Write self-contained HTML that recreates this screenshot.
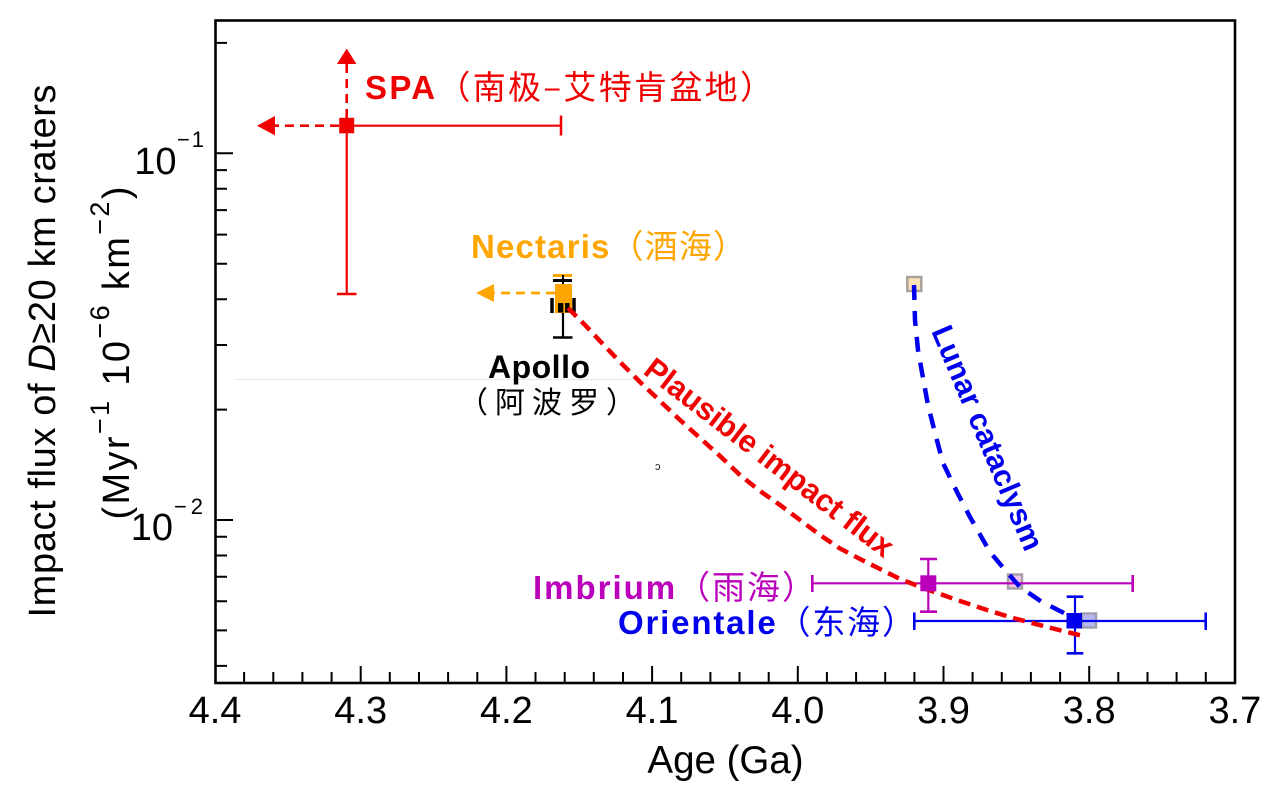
<!DOCTYPE html>
<html>
<head>
<meta charset="utf-8">
<style>
  html, body { margin: 0; padding: 0; background: #ffffff; }
  svg { display: block; }
  text { font-family: "Liberation Sans", "Noto Sans CJK SC", sans-serif; }
  .cjk { font-family: "Noto Sans CJK SC", "WenQuanYi Zen Hei", sans-serif; font-weight: normal; }
</style>
</head>
<body>
<svg width="1284" height="802" viewBox="0 0 1284 802" xmlns="http://www.w3.org/2000/svg">
  <rect x="0" y="0" width="1284" height="802" fill="#ffffff"/>

  <!-- faint artifact line -->
  <line x1="235" y1="379.5" x2="634" y2="379.5" stroke="#e4e4e4" stroke-width="1"/>
  <text x="655" y="470" font-size="11" fill="#222">ɔ</text>

  <!-- Axes frame -->
  <rect x="215.5" y="20.5" width="1019.5" height="662.5" fill="none" stroke="#000" stroke-width="2.6"/>

  <!-- Y ticks -->
  <g stroke="#000" stroke-width="2">
    <path d="M215 153.3H233 M215 520H233"/>
    <path d="M215 42.9H227 M215 170.1H227 M215 188.8H227 M215 210.1H227 M215 234.6H227 M215 263.7H227 M215 299.2H227 M215 345H227 M215 409.6H227 M215 536.8H227 M215 555.5H227 M215 576.8H227 M215 601.3H227 M215 630.4H227 M215 665.9H227"/>
  </g>
  <!-- X ticks -->
  <g stroke="#000" stroke-width="2">
    <path d="M360.7 683V666 M506.4 683V666 M652.1 683V666 M797.8 683V666 M943.5 683V666 M1089.2 683V666"/>
    <path d="M244.1 683V672 M273.3 683V672 M302.4 683V672 M331.6 683V672 M389.8 683V672 M419 683V672 M448.1 683V672 M477.3 683V672 M535.5 683V672 M564.7 683V672 M593.8 683V672 M623 683V672 M681.2 683V672 M710.4 683V672 M739.5 683V672 M768.7 683V672 M826.9 683V672 M856.1 683V672 M885.2 683V672 M914.4 683V672 M972.6 683V672 M1001.8 683V672 M1030.9 683V672 M1060.1 683V672 M1118.3 683V672 M1147.5 683V672 M1176.6 683V672 M1205.8 683V672"/>
  </g>

  <!-- X tick labels -->
  <g font-size="38" fill="#000" text-anchor="middle">
    <text x="215" y="723">4.4</text>
    <text x="360.7" y="723">4.3</text>
    <text x="506.4" y="723">4.2</text>
    <text x="652.1" y="723">4.1</text>
    <text x="797.8" y="723">4.0</text>
    <text x="943.5" y="723">3.9</text>
    <text x="1089.2" y="723">3.8</text>
    <text x="1234.9" y="723">3.7</text>
  </g>
  <text x="725.5" y="773" font-size="38.5" text-anchor="middle" fill="#000">Age (Ga)</text>

  <!-- Y tick labels -->
  <g fill="#000">
    <text x="176.5" y="174" font-size="38" text-anchor="end">10</text>
    <text x="177" y="147" font-size="22" textLength="27" lengthAdjust="spacing">−1</text>
    <text x="173" y="540" font-size="38" text-anchor="end">10</text>
    <text x="174" y="514" font-size="22" textLength="29" lengthAdjust="spacing">−2</text>
  </g>

  <!-- Y axis label -->
  <text transform="translate(55,351) rotate(-90)" text-anchor="middle" font-size="38" fill="#000" textLength="533" lengthAdjust="spacing">Impact flux of <tspan font-style="italic">D</tspan>≥20 km craters</text>
  <text transform="translate(129,353) rotate(-90)" text-anchor="middle" font-size="38" fill="#000" textLength="333" lengthAdjust="spacing">(Myr<tspan font-size="27" dy="-20">−1</tspan><tspan dy="20"> 10</tspan><tspan font-size="27" dy="-20">−6</tspan><tspan dy="20"> km</tspan><tspan font-size="27" dy="-20">−2</tspan><tspan dy="20">)</tspan></text>

  <!-- Light (gray-bordered) squares -->
  <rect x="907.3" y="277" width="14" height="14" fill="#ffe2b8" stroke="#a9a29a" stroke-width="2.5"/>
  <rect x="1008" y="574.5" width="14" height="14" fill="#f2c4f0" stroke="#a8a0a8" stroke-width="2.5"/>
  <rect x="1082" y="613.5" width="14" height="14" fill="#b8b8f6" stroke="#a0a0b0" stroke-width="2.5"/>

  <!-- SPA (red) -->
  <g stroke="#f00000" fill="none">
    <line x1="346.7" y1="125.7" x2="561" y2="125.7" stroke-width="2.2"/>
    <line x1="561" y1="115.5" x2="561" y2="135.5" stroke-width="2.5"/>
    <line x1="346.7" y1="125.7" x2="346.7" y2="294" stroke-width="2.2"/>
    <line x1="337" y1="294" x2="356.5" y2="294" stroke-width="2.5"/>
    <line x1="339" y1="125.7" x2="272" y2="125.7" stroke-width="2.6" stroke-dasharray="9,6"/>
    <line x1="346.7" y1="118" x2="346.7" y2="62" stroke-width="2.6" stroke-dasharray="9,6"/>
  </g>
  <polygon points="257,125.7 275,116 275,135.4" fill="#f00000"/>
  <polygon points="346.7,48.5 337,64 356.4,64" fill="#f00000"/>
  <rect x="339.2" y="117.8" width="15" height="15.5" fill="#f00000"/>

  <!-- Nectaris (orange) + Apollo (black) -->
  <line x1="555" y1="293" x2="492" y2="293" stroke="#ffa500" stroke-width="2.8" stroke-dasharray="9,6"/>
  <polygon points="476,293 494,284 494,302" fill="#ffa500"/>
  <line x1="553" y1="275.5" x2="572" y2="275.5" stroke="#ffa500" stroke-width="3"/>
  <line x1="563" y1="275" x2="563" y2="285" stroke="#000" stroke-width="2"/>
  <line x1="553" y1="280.5" x2="572" y2="280.5" stroke="#000" stroke-width="3"/>
  <rect x="555" y="284" width="17" height="29" fill="#ffa500"/>
  <rect x="558" y="303" width="11.5" height="9.5" fill="#000"/>
  <line x1="564.2" y1="300" x2="564.2" y2="313" stroke="#ffa500" stroke-width="1.8"/>
  <line x1="552" y1="298" x2="552" y2="313" stroke="#000" stroke-width="3.5"/>
  <line x1="574" y1="298" x2="574" y2="313" stroke="#000" stroke-width="3.5"/>
  <line x1="563" y1="313" x2="563" y2="337" stroke="#000" stroke-width="2.2"/>
  <line x1="553" y1="337.5" x2="572.5" y2="337.5" stroke="#000" stroke-width="2.6"/>

  <!-- Imbrium (magenta) -->
  <g stroke="#bb00bb" fill="none" stroke-width="2.2">
    <line x1="812.3" y1="583.3" x2="1132.7" y2="583.3"/>
    <line x1="812.3" y1="575" x2="812.3" y2="592" stroke-width="2.6"/>
    <line x1="1132.7" y1="575" x2="1132.7" y2="592" stroke-width="2.6"/>
    <line x1="928.3" y1="559" x2="928.3" y2="611.7"/>
    <line x1="920" y1="559" x2="937" y2="559" stroke-width="2.6"/>
    <line x1="920" y1="611.7" x2="937" y2="611.7" stroke-width="2.6"/>
  </g>

  <!-- Orientale (blue) -->
  <g stroke="#0000ee" fill="none" stroke-width="2.2">
    <line x1="914.3" y1="621" x2="1205.7" y2="621"/>
    <line x1="914.3" y1="612.5" x2="914.3" y2="630" stroke-width="2.6"/>
    <line x1="1205.7" y1="612.5" x2="1205.7" y2="630" stroke-width="2.6"/>
    <line x1="1075" y1="596.7" x2="1075" y2="653.3"/>
    <line x1="1066.7" y1="596.7" x2="1083.3" y2="596.7" stroke-width="2.6"/>
    <line x1="1066.7" y1="653.3" x2="1083.3" y2="653.3" stroke-width="2.6"/>
  </g>

  <!-- Plausible impact flux curve (red dashed) -->
  <polyline fill="none" stroke="#f00000" stroke-width="4.5" stroke-dasharray="12,7"
    points="568,308 585,325 600,341 620,362 640,382 660,401 680,420 700,438 720,456 740,475 760,491 780,505 800,520 820,535 840,548.5 860,559 880,569 900,579 926,589 957,600 987,610 1013,618 1047,627 1083,636"/>

  <!-- Lunar cataclysm curve (blue dashed) -->
  <polyline fill="none" stroke="#0000ee" stroke-width="4.5" stroke-dasharray="15,11"
    points="914,285 915,320 918,350 923,378 928,405 935,433 943,463 957,492 970,517 990,552 1005,570 1020,587 1042,602 1072,617"/>

  <!-- squares on top -->
  <rect x="920.3" y="575.3" width="16" height="16" fill="#bb00bb"/>
  <rect x="1066.5" y="613" width="15.5" height="15.5" fill="#0000ee"/>

  <!-- Labels -->
  <text x="365" y="99" font-size="33" fill="#f00000" textLength="408" lengthAdjust="spacing"><tspan font-weight="bold">SPA</tspan><tspan class="cjk">（南极–艾特肯盆地）</tspan></text>
  <text x="471" y="258" font-size="33" fill="#ffa500" textLength="275" lengthAdjust="spacing"><tspan font-weight="bold">Nectaris</tspan><tspan class="cjk">（酒海）</tspan></text>
  <text x="488" y="378" font-size="32" font-weight="bold" fill="#000" textLength="102" lengthAdjust="spacing">Apollo</text>
  <text x="458" y="413" font-size="30" fill="#000" textLength="178" lengthAdjust="spacing"><tspan class="cjk">（阿波罗）</tspan></text>
  <text x="533" y="599" font-size="33" fill="#bb00bb" textLength="282" lengthAdjust="spacing"><tspan font-weight="bold">Imbrium</tspan><tspan class="cjk">（雨海）</tspan></text>
  <text x="618" y="634" font-size="33" fill="#0000ee" textLength="297" lengthAdjust="spacing"><tspan font-weight="bold">Orientale</tspan><tspan class="cjk">（东海）</tspan></text>

  <text transform="translate(642,373) rotate(37.5)" font-size="31" font-weight="bold" fill="#f00000" textLength="305" lengthAdjust="spacing">Plausible impact flux</text>
  <text transform="translate(931,331) rotate(67)" font-size="30.5" font-weight="bold" fill="#0000ee" textLength="241" lengthAdjust="spacing">Lunar cataclysm</text>
</svg>
</body>
</html>
